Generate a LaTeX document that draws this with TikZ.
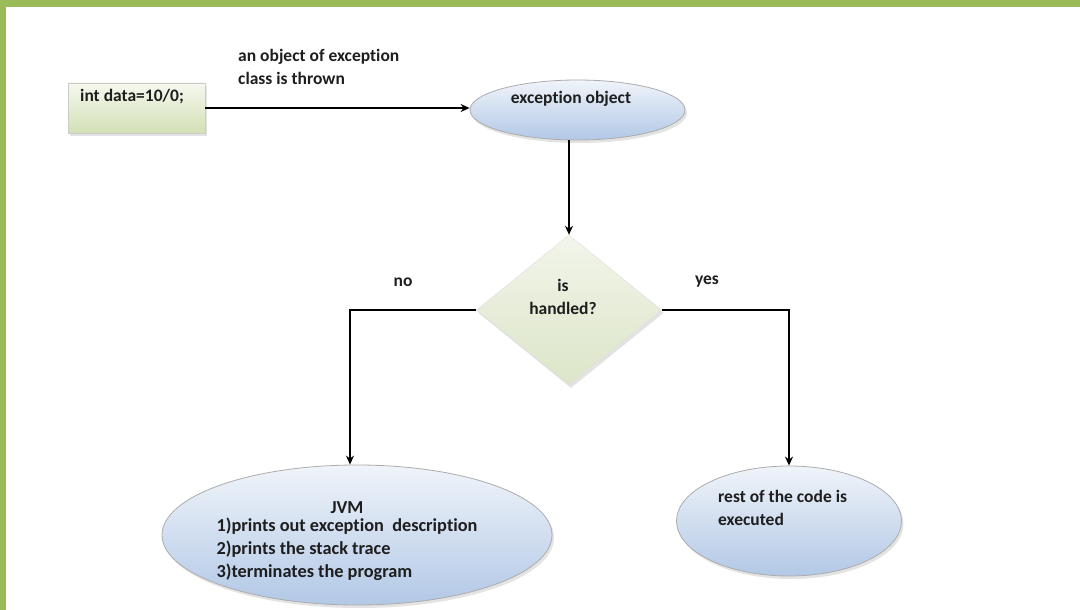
\documentclass[tikz,border=0pt]{standalone}
\usepackage{fontspec}
\setmainfont[Ligatures=NoCommon]{Carlito}
\usetikzlibrary{shapes.geometric,shadows,arrows.meta}
\definecolor{frame}{HTML}{9BBB59}
\definecolor{txt}{HTML}{1E1E1E}
\definecolor{bluetop}{HTML}{F0F4FA}
\definecolor{bluebot}{HTML}{B2C8E6}
\definecolor{greentop}{HTML}{F5F8EE}
\definecolor{greenbot}{HTML}{D3E0B6}
\definecolor{diatop}{HTML}{F2F5EA}
\definecolor{diabot}{HTML}{DCE5C8}
\tikzset{
  shad/.style={drop shadow={opacity=0.22,shadow xshift=2pt,shadow yshift=-3pt}},
  bluebox/.style={ellipse,draw=gray!65,line width=0.8pt,top color=bluetop,bottom color=bluebot,shad,inner sep=0pt},
  greenbox/.style={rectangle,draw=gray!40,line width=0.6pt,top color=greentop,bottom color=greenbot,shad,inner sep=0pt},
  decbox/.style={diamond,draw=gray!25,line width=0.4pt,top color=diatop,bottom color=diabot,shad,inner sep=0pt},
  lbl/.style={text=txt,font=\fontsize{17.5}{23}\selectfont\bfseries,inner sep=0pt},
  flow/.style={draw=black,line width=1.3pt,-{Stealth[length=9pt,width=8pt]}},
}
\begin{document}
\begin{tikzpicture}[x=1pt,y=-1pt]
\useasboundingbox (0,0) rectangle (1080,610);
\fill[white] (0,0) rectangle (1080,610);
\fill[frame] (0,0) rectangle (1080,7);
\fill[frame] (0,0) rectangle (6,610);

\node[greenbox,minimum width=137pt,minimum height=50pt] (data) at (136.5,108) {};
\node[lbl,anchor=west] (datatext) at (80,97) {int data=10/0;};

\node[bluebox,minimum width=215pt,minimum height=60pt] (exobj) at (577.5,110) {};
\node[lbl] (extext) at (571,99) {exception object};

\node[decbox,minimum width=185pt,minimum height=150pt] (dec) at (569,310) {};
\node[lbl,align=center] (dectext) at (563,297) {is\\handled?};

\node[bluebox,minimum width=390pt,minimum height=140pt] (jvm) at (357,535) {};
\node[lbl,font=\fontsize{18.3}{23}\selectfont\bfseries,align=center] (jvmtext) at (347,543) {JVM\\\begin{tabular}{@{}l@{}}1)prints out exception\ \ description\\2)prints the\ stack trace\\3)terminates the program\end{tabular}};

\node[bluebox,minimum width=225pt,minimum height=110pt] (rest) at (789,521) {};
\node[lbl,align=left,anchor=west] (resttext) at (718,507.5) {rest of the code is\\executed};

\node[lbl,align=left,anchor=west] (thrown) at (238,66.5) {an object of exception\\class is thrown};
\node[lbl] (no) at (403,282) {no};
\node[lbl] (yes) at (707,282) {yes};

\coordinate (nocorner) at (350,310);
\draw[flow] (data.east) -- (data.east -| exobj.west);
\draw[flow] (exobj.south -| dec.north) -- (dec.north);
\draw[flow] (dec.west) -- (nocorner) -- (nocorner |- jvm.north);
\draw[flow] (dec.east) -| (rest.north);
\end{tikzpicture}
\end{document}
